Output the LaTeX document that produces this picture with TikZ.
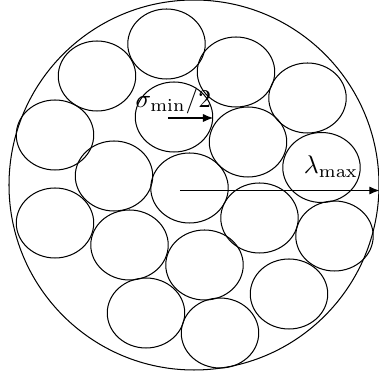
\documentclass[tikz,border=0pt]{standalone}
\usetikzlibrary{shapes.geometric, arrows.meta}

\begin{document}
\begin{tikzpicture}[
    x=0.39pt, y=-0.39pt,
    particle/.style={
        draw,
        ellipse,
        inner sep=0pt,
        minimum width=30.2pt,
        minimum height=27.3pt
    },
    container/.style={
        draw,
        circle,
        inner sep=0pt,
        minimum size=144.3pt
    },
    arrow/.style={
        -{Latex[length=4pt,width=3.2pt]},
        line width=0.45pt
    }
]
\useasboundingbox (0,0) rectangle (379,375);

% Outer domain
\node[container] (dom) at (194,185) {};

% Packed particles
\foreach \i/\px/\py in {1/166.5/44, 2/97/76, 3/236/72, 4/307.5/98, 5/55/135,
    6/174/117, 7/248/142, 8/114/176, 9/189.5/188, 10/321.5/167.5,
    11/55/223, 12/259.5/218, 13/129.5/245, 14/334.5/236, 15/204.5/265,
    16/146/313, 17/289/294, 18/220/333}
    \node[particle] (p\i) at (\px,\py) {};

% Labels
\node[anchor=base] (sig) at (173.5,108) {$\sigma_{\min}/2$};
\node (lam) at (331,167) {$\lambda_{\max}$};

% Radii
\coordinate (sstart) at (168,118);
\coordinate (lstart) at (180,190.5);
\draw[arrow] (sstart) -- (sstart -| p6.east);
\draw[arrow] (lstart) -- (lstart -| dom.east);

\end{tikzpicture}
\end{document}
